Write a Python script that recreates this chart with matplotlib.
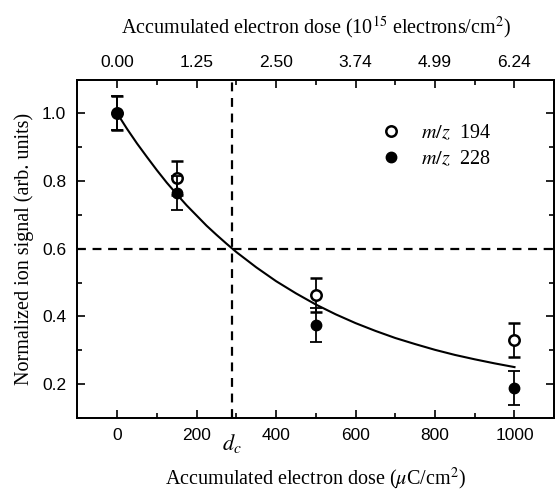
import matplotlib
matplotlib.use("Agg")
import matplotlib.pyplot as plt
import matplotlib.transforms as mtransforms
from matplotlib.lines import Line2D

plt.rcParams["font.family"] = "Liberation Serif"
plt.rcParams["mathtext.fontset"] = "stix"

# dose in uC/cm^2
dose = [0, 150, 500, 1000]
sig_194 = [1.0, 0.81, 0.463, 0.331]
err_194 = [0.05, 0.05, 0.05, 0.05]
sig_228 = [1.0, 0.765, 0.375, 0.188]
err_228 = [0.05, 0.05, 0.05, 0.05]

# fitted curve
fit_x = [0, 25, 50, 75, 100, 125, 150, 175, 200, 225, 250, 275, 300, 350, 400,
         450, 500, 550, 600, 650, 700, 750, 800, 850, 900, 950, 1000]
fit_y = [1.0, 0.954, 0.911, 0.871, 0.832, 0.795, 0.761, 0.728, 0.698, 0.668, 0.641,
         0.615, 0.590, 0.545, 0.504, 0.468, 0.435, 0.406, 0.380, 0.357, 0.336, 0.318,
         0.301, 0.286, 0.273, 0.261, 0.250]

d_c = 288
level = 0.6

bottom_ticks = [0, 200, 400, 600, 800, 1000]
top_labels = ["0.00", "1.25", "2.50", "3.74", "4.99", "6.24"]
y_ticks = [0.2, 0.4, 0.6, 0.8, 1.0]

fig = plt.figure(figsize=(5.57, 4.91), dpi=100)
ax = fig.add_axes([0.139, 0.149, 0.856, 0.689])

ax.axhline(level, color="black", lw=1.6, ls=(0, (4, 3)))
ax.axvline(d_c, color="black", lw=1.6, ls=(0, (4, 3)))

ax.plot(fit_x, fit_y, color="black", lw=1.5)

ax.errorbar(dose, sig_194, yerr=err_194, fmt="o", ms=7.5, mfc="white", mec="black",
            mew=1.8, ecolor="black", elinewidth=1.3, capsize=4, capthick=1.3, zorder=3)
ax.errorbar(dose, sig_228, yerr=err_228, fmt="o", ms=7.5, mfc="black", mec="black",
            ecolor="black", elinewidth=1.3, capsize=4, capthick=1.3, zorder=4)

ax.set_xlim(-100, 1100)
ax.set_ylim(0.1, 1.1)
ax.set_xticks(bottom_ticks)
ax.set_xticks(range(-100, 1101, 200), minor=True)
ax.set_yticks(y_ticks)
ax.set_yticklabels([f"{v:.1f}" for v in y_ticks])
ax.set_yticks([0.1, 0.3, 0.5, 0.7, 0.9, 1.1], minor=True)

ax.tick_params(which="both", direction="in", right=True, width=1.2)
ax.tick_params(which="major", length=6)
ax.tick_params(which="minor", length=3.5)
ax.tick_params(axis="x", pad=7)
ax.tick_params(axis="y", pad=8)
for lab in ax.get_xticklabels() + ax.get_yticklabels():
    lab.set_fontfamily("Liberation Sans")
    lab.set_fontsize(12.5)
for s in ax.spines.values():
    s.set_linewidth(1.3)

ax.set_xlabel("Accumulated electron dose ($\\mu$C/cm$^2$)", fontsize=14.5, labelpad=17)
ax.set_ylabel("Normalized ion signal (arb. units)", fontsize=14.5, labelpad=6)

trans = mtransforms.blended_transform_factory(ax.transData, ax.transAxes)
ax.text(d_c, -0.075, "$d_c$", transform=trans, fontsize=16, ha="center", va="center")

ax2 = ax.twiny()
ax2.set_xlim(ax.get_xlim())
ax2.set_xticks(bottom_ticks)
ax2.set_xticklabels(top_labels, fontfamily="Liberation Sans", fontsize=12.5)
ax2.set_xticks(range(-100, 1101, 200), minor=True)
ax2.tick_params(which="both", direction="in", width=1.2, pad=7)
ax2.tick_params(which="major", length=6)
ax2.tick_params(which="minor", length=3.5)
ax2.set_xlabel("Accumulated electron dose (10$^{15}$ electrons/cm$^2$)", fontsize=14.5, labelpad=15)
for s in ax2.spines.values():
    s.set_linewidth(1.3)

handles = [
    Line2D([], [], ls="none", marker="o", ms=7.5, mfc="white", mec="black", mew=1.8),
    Line2D([], [], ls="none", marker="o", ms=7.5, mfc="black", mec="black"),
]
ax.legend(handles, ["$m/z$  194", "$m/z$  228"], loc="upper left",
          bbox_to_anchor=(0.612, 0.9), frameon=False, fontsize=14.5,
          handlelength=1.2, handletextpad=0.85, labelspacing=0.35, borderpad=0)

fig.savefig("out.png", dpi=100)
